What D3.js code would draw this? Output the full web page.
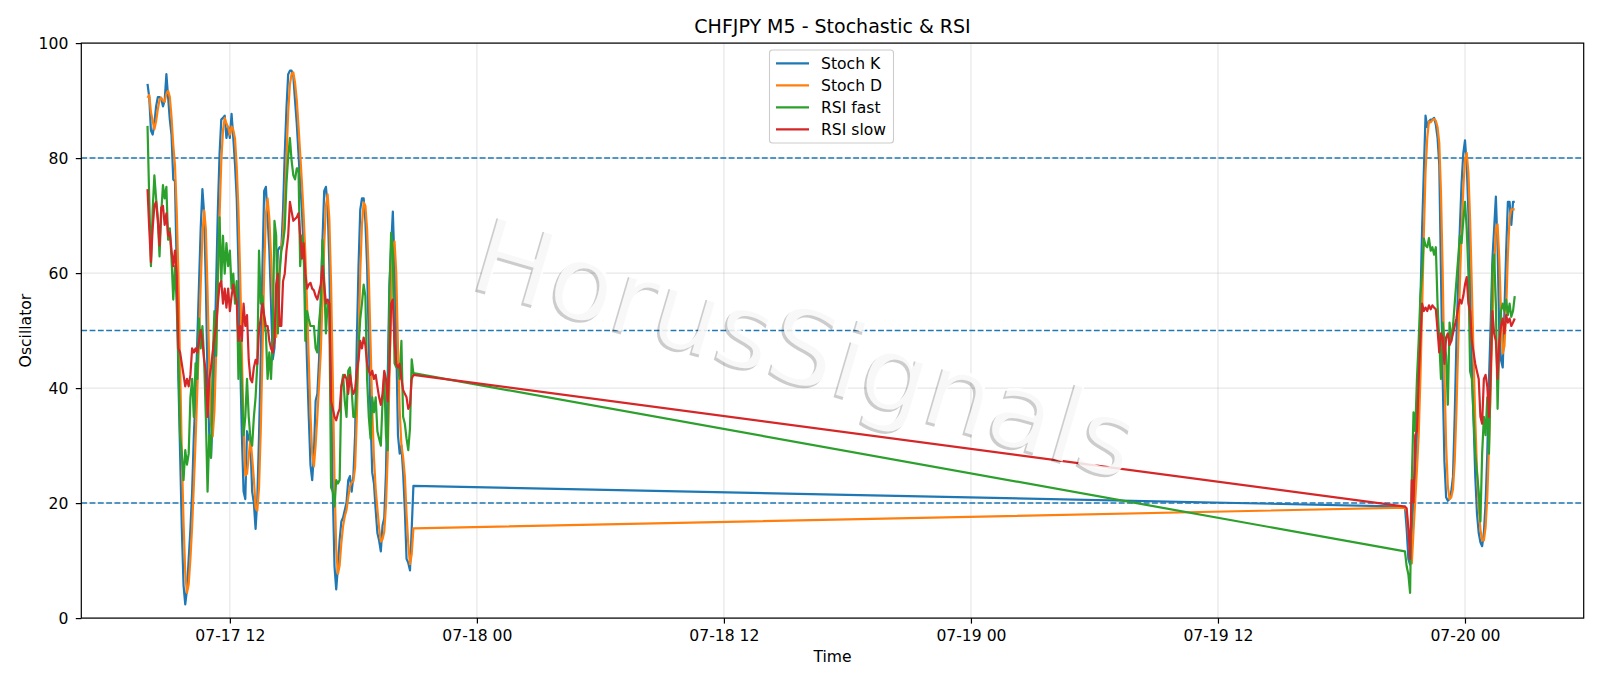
<!DOCTYPE html>
<html>
<head>
<meta charset="utf-8">
<script src="https://cdn.jsdelivr.net/npm/d3@7"></script>
<style>
    body { margin: 0; background: #fff; }
    svg text { font-family: "DejaVu Sans", sans-serif; fill: #000; }
</style>
</head>
<body>
<div id="chart"></div>
<script>

// M5 bars: Friday session, then Sunday re-open
const seg1Start = new Date(2020, 6, 17, 8, 0);
const seg2Start = new Date(2020, 6, 19, 21, 5);
const stepMinutes = 5;

const xTicks = [
    new Date(2020, 6, 17, 12), new Date(2020, 6, 18, 0), new Date(2020, 6, 18, 12),
    new Date(2020, 6, 19, 0), new Date(2020, 6, 19, 12), new Date(2020, 6, 20, 0)
];
const yTicks = [0, 20, 40, 60, 80, 100];
const levels = [20, 50, 80];

const stochK1 = [
    92.9, 90.6, 84.8, 84.1, 86, 89, 90.6, 90.6, 90.3, 89, 90, 94.6, 90.6, 86.7, 84, 76.3, 76, 61, 41.6, 28.6,
    15.5, 5.7, 2.4, 5, 10.3, 15.5, 22, 31.8, 38.4, 48.2, 58, 67.8, 74.6, 70.4, 58, 41.6, 31.8, 27.9, 35, 45,
    58, 71, 80.8, 86.7, 87, 87.4, 83.5, 85.4, 83.5, 87.7, 83.5, 78.9, 73, 61.2, 45, 31.8, 22, 20.7, 32.5, 31.2,
    30.5, 22, 20, 15.5, 20.7, 31.8, 45, 61.2, 74.3, 75, 69.7, 64, 54.7, 45, 47, 54.7, 64, 64.5, 64.2, 71,
    80.8, 88.7, 94.6, 95.2, 95.2, 94.2, 90, 86, 80.8, 75.6, 71, 64, 55, 44.3, 35, 26.6, 24, 28.6, 37.8, 39,
    45, 55, 65.8, 74.3, 75, 71.7, 61.2, 41.6, 22, 9, 5, 9, 13.6, 16.8, 17.5, 18.8, 20.1, 24, 24.7, 22,
    24.7, 31.8, 48, 61.2, 71, 73, 73, 69, 61.2, 48, 35, 25.3, 23.4, 18.8, 14.8, 13.5, 11.6, 16.1, 17.4, 25.3,
    41.6, 58, 64.5, 70.7, 61.2, 48, 31.8, 28.6, 30, 25.3, 18.8, 10.3, 9.6, 8.3, 15.5, 23
];
const stochD1 = [
    90.5, 91, 88, 86.5, 85, 86.4, 88.5, 90.1, 90.5, 90, 89.8, 91.2, 91.7, 90.6, 87.1, 82.3, 78.8, 71.1, 59.5, 43.7,
    28.6, 16.6, 7.9, 4.4, 5.9, 10.3, 15.9, 23.1, 30.7, 39.5, 48.2, 58, 66.8, 70.9, 67.7, 56.7, 43.8, 33.8, 31.6, 36,
    46, 58, 69.9, 79.5, 84.8, 87, 86, 85.4, 84.1, 85.5, 84.9, 83.4, 78.5, 71, 59.7, 46, 33, 24.8, 25.1, 28.1,
    31.4, 27.9, 24.2, 19.2, 18.7, 22.7, 32.5, 46, 60.2, 70.2, 73, 69.6, 62.8, 54.6, 48.9, 48.9, 55.2, 61.1, 64.2, 66.6,
    72, 80.2, 88, 92.8, 94.7, 94.9, 93.1, 90.1, 85.6, 80.8, 75.8, 70.2, 63.3, 54.4, 44.8, 35.3, 28.5, 26.4, 30.1, 35.1,
    40.6, 46.3, 55.3, 65, 71.7, 73.7, 69.3, 58.2, 41.6, 24.2, 12, 7.7, 9.2, 13.1, 16, 17.7, 18.8, 21, 22.9, 23.6,
    23.8, 26.2, 34.8, 47, 60.1, 68.4, 72.3, 71.7, 67.7, 59.4, 48.1, 36.1, 27.9, 22.5, 19, 15.7, 13.3, 13.7, 15, 19.6,
    28.1, 41.6, 54.7, 64.4, 65.5, 60, 47, 36.1, 30.1, 28, 24.7, 18.1, 12.9, 9.4, 11.1, 15.6
];
const rsiFast1 = [
    85.6, 73, 61.2, 71, 77, 73, 69.7, 62.9, 70.4, 75.3, 73, 75, 65.8, 67.8, 62.5, 55.4, 61.2, 54.7, 45, 31.8,
    28.6, 24, 29.2, 26.7, 28.6, 38.4, 41.6, 35, 44.3, 41.6, 52.1, 46.9, 50.8, 45, 35, 22, 31.8, 27.9, 45, 53.4,
    45.6, 59.9, 69.7, 58.6, 66.5, 59.9, 65.2, 61.2, 63.9, 57.3, 59.9, 54.7, 58.6, 41.6, 48.2, 40.3, 31.8, 35, 41.6, 35,
    31.2, 30, 35, 38.4, 44.3, 63.9, 54.7, 56, 52.1, 49.5, 41.6, 46.2, 41.6, 48.8, 69.1, 66.5, 49.5, 59.9, 63.9, 65.2,
    67.8, 75.6, 80.2, 83.5, 79.5, 77, 76.3, 78.2, 78.2, 61.2, 66.5, 64.5, 48.2, 53.4, 52, 50.8, 50.8, 50.8, 46.9, 46.2,
    51.4, 54.7, 65.8, 58.6, 49.5, 54.7, 53.4, 22.7, 22, 19.4, 24, 23.4, 24, 40.3, 42.3, 37.7, 35, 43, 43.6, 39.7,
    35, 35, 40.3, 47, 52, 54.7, 58, 56, 41.6, 35, 31.2, 38.4, 35.8, 38.4, 32.5, 31.2, 30, 37.7, 42.3, 31.8,
    29.2, 56, 67, 63.9, 44.3, 43.6, 43.6, 41.6, 48.2, 35, 33.8, 31.2, 29.2, 33, 45, 42.6
];
const rsiSlow1 = [
    74.6, 67.8, 61.9, 67.8, 71.7, 72.4, 69.1, 64.8, 71.4, 71.7, 68.4, 70.4, 66.5, 67.1, 63.9, 61.2, 63.9, 59.9, 46.9, 46.2,
    44.2, 42.3, 40.3, 41.6, 40.3, 42.3, 46.9, 46.2, 46.9, 46.2, 48.2, 50.1, 48.2, 44.9, 43, 35, 41.6, 43.6, 46.2, 48.8,
    50.8, 54.7, 58, 58.6, 54.7, 57.3, 54, 57.3, 53.4, 56, 58, 56, 55, 48.2, 50.8, 48.2, 54.7, 50.8, 52.7, 44.9,
    41.6, 41, 43.6, 44.9, 44.2, 50.1, 52.1, 54.7, 52.7, 50.8, 50.8, 48.2, 46.9, 46.2, 48.2, 58, 59.9, 50.8, 50.8, 58.6,
    59.9, 63.9, 66.5, 72.4, 70.7, 69.1, 69.4, 69.7, 70.4, 66.5, 62.5, 65.2, 59.9, 57.3, 58, 58.3, 57.3, 57, 56, 55.4,
    56.7, 58, 61.2, 58, 54.7, 55.4, 54.7, 37.7, 36.4, 35, 34.4, 35.6, 36.4, 40.3, 41.6, 42.3, 41.6, 39, 42.3, 40.3,
    39, 39.7, 43, 44.9, 48.2, 46.9, 48.8, 47.5, 44.2, 43, 42.3, 43, 41.6, 42.3, 40.3, 38.4, 37.1, 39, 43, 41.6,
    37.7, 43.6, 54.7, 55.4, 48.2, 44.2, 43.6, 44.2, 41.6, 39.7, 39, 38.4, 36.4, 37.1, 41.6, 42.3
];

const stochK2 = [
    19.4, 15.5, 10.3, 9.3, 15.5, 20.7, 25.3, 31.8, 38.4, 54.7, 67.8, 77.6, 87.4, 85.4, 86.4, 86.7, 86.7, 87, 85.8, 83.5,
    78.9, 59.9, 41.6, 27.3, 21, 20.4, 20.7, 22, 24.6, 35, 48.2, 58, 67.8, 75.6, 80.8, 83.1, 78.9, 70.4, 58, 44.2,
    34.4, 24.6, 18.1, 14.8, 13.2, 12.5, 14.8, 20, 28.6, 41.6, 51.4, 62.5, 67.8, 73.3, 64.5, 49.5, 44.9, 43.6, 53.4, 63.9,
    72.4, 72.4, 68.4, 72.4, 72.4
];
const stochD2 = [
    19.2, 18.5, 15, 11.7, 9.5, 15.2, 20.5, 25.9, 31.8, 41.6, 53.6, 66.7, 77.6, 83.5, 86.4, 86.2, 86.6, 86.8, 86.5, 85.4,
    82.7, 74.1, 60.1, 42.9, 30, 22.9, 20.7, 21, 22.4, 27.2, 35.9, 47.1, 58, 67.1, 74.7, 79.8, 80.9, 77.5, 69.1, 57.5,
    45.5, 34.4, 25.7, 19.2, 15.4, 13.5, 13.5, 15.8, 21.1, 30.1, 40.5, 51.8, 60.6, 67.9, 68.5, 62.4, 53, 46, 47.3, 53.6,
    63.2, 69.6, 71.1, 71.1, 71.1
];
const rsiFast2 = [
    11.6, 9, 7.6, 4.4, 24, 35.8, 32.5, 41.6, 48.2, 56, 60, 66, 64.8, 64.5, 66.1, 63.9, 64.5, 63.2, 64.5, 54.7,
    48.2, 41.6, 51.4, 48.2, 45.6, 37.1, 51.4, 48.2, 50.8, 54.7, 58.6, 62.5, 66.5, 65.2, 69.1, 72.4, 67.8, 59.9, 42.9, 41.6,
    35, 28.6, 25.3, 22, 16.8, 28.6, 35, 31.8, 38.4, 28.6, 42.9, 61.2, 63.2, 54.7, 36.4, 48.2, 53.4, 54.7, 53.4, 55.4,
    52.7, 54.7, 52.4, 53.4, 56
];
const rsiSlow2 = [
    19.4, 19.1, 15.5, 10.3, 24, 20.1, 31.8, 32.5, 41.6, 48.2, 54.7, 53.4, 54, 53.4, 54.4, 53.7, 54.4, 54, 53.7, 50.1,
    46.2, 49.5, 48.8, 44.2, 48.8, 49.5, 47.5, 48.2, 49.5, 50.8, 52.1, 54, 55.4, 54.7, 56, 58, 59.3, 54.7, 53.4, 48.2,
    46.2, 44.2, 42.9, 41.6, 35, 33.8, 41.6, 42.3, 40.3, 35, 42.9, 53.4, 49.5, 48.2, 41.6, 48.2, 50.8, 52.1, 49.5, 52.7,
    51.4, 52.1, 50.8, 51.4, 52.1
];

const seriesNames = ["Stoch K", "Stoch D", "RSI fast", "RSI slow"];
const seriesColors = ["#1f77b4", "#ff7f0e", "#2ca02c", "#d62728"];


// ---- build data ----
function buildTimes(start, n) {
    return d3.range(n).map(k => d3.timeMinute.offset(start, k * stepMinutes));
}
let times = buildTimes(seg1Start, stochK1.length).concat(buildTimes(seg2Start, stochK2.length));

let seriesValues = [
    stochK1.concat(stochK2),
    stochD1.concat(stochD2),
    rsiFast1.concat(rsiFast2),
    rsiSlow1.concat(rsiSlow2)
];

let series = seriesNames.map((name, s) => ({
    name: name,
    color: seriesColors[s],
    points: times.map((t, k) => ({t: t, v: seriesValues[s][k]}))
}));


// ---- drawing area ----
const W = 1600, H = 686;
const plot = {left: 81.3, right: 1583.7, top: 43.1, bottom: 618.1};
const fontSize = 15.6;

let svg = d3.select("#chart").append("svg")
    .attr("width", W)
    .attr("height", H);

svg.append("rect").attr("width", W).attr("height", H).attr("fill", "#fff");

let x = d3.scaleTime()
    .domain([new Date(2020, 6, 17, 4, 47), new Date(2020, 6, 20, 5, 46)])
    .range([plot.left, plot.right]);

let y = d3.scaleLinear()
    .domain([0, 100])
    .range([plot.bottom, plot.top]);

// grid
let grid = svg.append("g").attr("class", "grid");
grid.selectAll(".vgrid")
    .data(xTicks)
    .join("line")
    .attr("class", "vgrid")
    .attr("x1", d => x(d)).attr("x2", d => x(d))
    .attr("y1", plot.top).attr("y2", plot.bottom)
    .attr("stroke", "#b0b0b0").attr("stroke-opacity", 0.3).attr("stroke-width", 1.2);
grid.selectAll(".hgrid")
    .data(yTicks)
    .join("line")
    .attr("class", "hgrid")
    .attr("x1", plot.left).attr("x2", plot.right)
    .attr("y1", d => y(d)).attr("y2", d => y(d))
    .attr("stroke", "#b0b0b0").attr("stroke-opacity", 0.3).attr("stroke-width", 1.2);

// reference levels
svg.selectAll(".level")
    .data(levels)
    .join("line")
    .attr("class", "level")
    .attr("x1", plot.left).attr("x2", plot.right)
    .attr("y1", d => y(d)).attr("y2", d => y(d))
    .attr("stroke", "#1f77b4")
    .attr("stroke-width", 1.5)
    .attr("stroke-dasharray", "5.8,2.5");

// lines
let line = d3.line()
    .x(d => x(d.t))
    .y(d => y(d.v));

svg.selectAll(".series")
    .data(series)
    .join("path")
    .attr("class", "series")
    .attr("d", d => line(d.points))
    .attr("fill", "none")
    .attr("stroke", d => d.color)
    .attr("stroke-width", 2.2)
    .attr("stroke-linejoin", "round")
    .attr("stroke-linecap", "butt");

// watermark (white text over a soft grey shadow)
let wmX = 796, wmY = 383, wmAngle = 16.4;
svg.append("text")
    .text("HorusSignals")
    .attr("transform", `translate(${wmX - 2.5}, ${wmY + 2.5}) rotate(${wmAngle})`)
    .attr("text-anchor", "middle")
    .attr("style", "font-size: 105px; fill: #000; fill-opacity: 0.2");
svg.append("text")
    .text("HorusSignals")
    .attr("transform", `translate(${wmX}, ${wmY}) rotate(${wmAngle})`)
    .attr("text-anchor", "middle")
    .attr("style", "font-size: 105px; fill: #fff; fill-opacity: 0.85");

// axes
let xAxis = d3.axisBottom(x)
    .tickValues(xTicks)
    .tickFormat(d3.timeFormat("%m-%d %H"))
    .tickSize(5.5)
    .tickPadding(6.8);
let xAxisGroup = svg.append("g")
    .attr("transform", `translate(0, ${plot.bottom})`)
    .call(xAxis);

let yAxis = d3.axisLeft(y)
    .tickValues(yTicks)
    .tickSize(5.5)
    .tickPadding(7.5);
let yAxisGroup = svg.append("g")
    .attr("transform", `translate(${plot.left}, 0)`)
    .call(yAxis);

[xAxisGroup, yAxisGroup].forEach(g => {
    g.select(".domain").remove();
    g.selectAll(".tick line").attr("stroke", "#000").attr("stroke-width", 1.2);
    g.selectAll(".tick text")
        .attr("style", `font-size: ${fontSize}px; font-family: 'DejaVu Sans'; fill: #000`);
});

// spines
svg.append("rect")
    .attr("x", plot.left).attr("y", plot.top)
    .attr("width", plot.right - plot.left)
    .attr("height", plot.bottom - plot.top)
    .attr("fill", "none")
    .attr("stroke", "#000")
    .attr("stroke-width", 1.2);

// title + labels
svg.append("text")
    .text("CHFJPY M5 - Stochastic & RSI")
    .attr("x", (plot.left + plot.right) / 2)
    .attr("y", 33.3)
    .attr("text-anchor", "middle")
    .attr("style", "font-size: 19px");

svg.append("text")
    .text("Time")
    .attr("x", (plot.left + plot.right) / 2)
    .attr("y", 661.7)
    .attr("text-anchor", "middle")
    .attr("style", `font-size: ${fontSize}px`);

svg.append("text")
    .text("Oscillator")
    .attr("transform", `translate(31.2, ${(plot.top + plot.bottom) / 2}) rotate(-90)`)
    .attr("text-anchor", "middle")
    .attr("style", `font-size: ${fontSize}px`);

// legend
let legend = svg.append("g").attr("transform", "translate(769.5, 50)");
legend.append("rect")
    .attr("width", 124)
    .attr("height", 93)
    .attr("rx", 3)
    .attr("fill", "#fff")
    .attr("fill-opacity", 0.8)
    .attr("stroke", "#cccccc")
    .attr("stroke-width", 1.1);

let entries = legend.selectAll(".entry")
    .data(series)
    .join("g")
    .attr("class", "entry")
    .attr("transform", (d, k) => `translate(0, ${13.3 + k * 22})`);
entries.append("line")
    .attr("x1", 6.5).attr("x2", 39.5)
    .attr("y1", 0).attr("y2", 0)
    .attr("stroke", d => d.color)
    .attr("stroke-width", 2.2);
entries.append("text")
    .text(d => d.name)
    .attr("x", 51.5)
    .attr("dy", "0.36em")
    .attr("style", `font-size: ${fontSize}px`);

</script>
</body>
</html>
